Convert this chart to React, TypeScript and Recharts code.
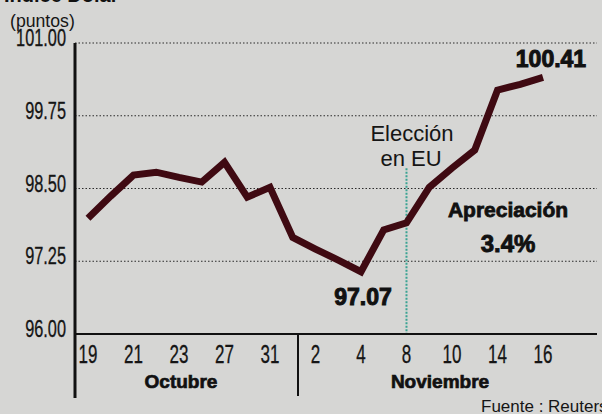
import React from 'react';
import { LineChart, Line, XAxis, YAxis, CartesianGrid, ReferenceLine, ReferenceDot } from 'recharts';

// Trading-day index (0..20) and index values
const dayIndex = [0, 1, 2, 3, 4, 5, 6, 7, 8, 9, 10, 11, 12, 13, 14, 15, 16, 17, 18, 19, 20];
const indexValues = [97.99, 98.37, 98.73, 98.78, 98.69, 98.61, 98.95, 98.35, 98.52, 97.66, 97.46, 97.27, 97.07, 97.79, 97.91, 98.52, 98.85, 99.16, 100.19, 100.29, 100.41];
const tickPositions = [0, 2, 4, 6, 8, 10, 12, 14, 16, 18, 20];
const tickLabels = ['19', '21', '23', '27', '31', '2', '4', '8', '10', '14', '16'];
const yTicks = [96, 97.25, 98.5, 99.75, 101];
const electionIndex = 14;
const electionTop = 98.85;
const minIndex = 12;
const minValue = 97.07;
const lastIndex = 20;
const lastValue = 100.41;

const data = dayIndex.map((i, k) => ({ i, v: indexValues[k] }));

const FONT = '"Liberation Sans", Arial, sans-serif';

const YTick = (props: any) => {
  const { y, payload } = props;
  return (
    <g transform={`translate(66, ${y + 3}) scale(0.68, 1)`}>
      <text x={0} y={0} textAnchor="end" fontFamily={FONT} fontSize={24} fill="#151515" stroke="#151515" strokeWidth={0.3}>
        {Number(payload.value).toFixed(2)}
      </text>
    </g>
  );
};

const XTick = (props: any) => {
  const { x, payload } = props;
  const idx = tickPositions.indexOf(payload.value);
  const label = idx >= 0 ? tickLabels[idx] : '';
  return (
    <g transform={`translate(${x}, 363) scale(0.68, 1)`}>
      <text x={0} y={0} textAnchor="middle" fontFamily={FONT} fontSize={25} fill="#151515" stroke="#151515" strokeWidth={0.3}>
        {label}
      </text>
    </g>
  );
};

const BoldLabel = (text: string, dx: number, dy: number, size: number) => (props: any) => {
  const vb = props.viewBox || {};
  const cx = vb.cx !== undefined ? vb.cx : vb.x + (vb.width || 0) / 2;
  const cy = vb.cy !== undefined ? vb.cy : vb.y + (vb.height || 0) / 2;
  return (
    <text
      x={cx + dx}
      y={cy + dy}
      textAnchor="middle"
      fontFamily={FONT}
      fontWeight={700}
      fontSize={size}
      fill="#111"
      stroke="#111"
      strokeWidth={1}
    >
      {text}
    </text>
  );
};

export default function App() {
  return (
    <div style={{ position: 'absolute', left: 0, top: 0, width: 602, height: 414, background: '#d6d6d4', overflow: 'hidden' }}>
      <LineChart width={602} height={414} data={data} margin={{ top: 43, right: 5, bottom: 0, left: 15 }}>
        <CartesianGrid horizontal vertical={false} stroke="#2a2a2a" strokeDasharray="1.5 2" strokeWidth={1} />
        <XAxis
          dataKey="i"
          type="number"
          domain={[-0.571, 22.374]}
          allowDataOverflow
          ticks={tickPositions}
          interval={0}
          height={80}
          tickLine={false}
          axisLine={{ stroke: '#111', strokeWidth: 2 }}
          tick={<XTick />}
        />
        <YAxis
          type="number"
          domain={[96, 101]}
          ticks={yTicks}
          width={60}
          tickLine={false}
          axisLine={{ stroke: '#111', strokeWidth: 3 }}
          tick={<YTick />}
        />
        <ReferenceLine
          segment={[{ x: electionIndex, y: electionTop }, { x: electionIndex, y: 96 }]}
          stroke="#3aa393"
          strokeWidth={2}
          strokeDasharray="2 1.5"
        />
        <Line
          type="linear"
          dataKey="v"
          stroke="#3f0a12"
          strokeWidth={7}
          dot={false}
          activeDot={false}
          strokeLinejoin="miter"
          isAnimationActive={false}
        />
        <ReferenceDot x={lastIndex} y={lastValue} r={0} stroke="none" fill="none" label={BoldLabel(lastValue.toFixed(2), 8, -10, 23)} />
        <ReferenceDot x={minIndex} y={minValue} r={0} stroke="none" fill="none" label={BoldLabel(minValue.toFixed(2), 2, 33, 23)} />
      </LineChart>
      <svg width={602} height={414} style={{ position: 'absolute', left: 0, top: 0, pointerEvents: 'none' }}>
        <text x={4} y={2} fontFamily={FONT} fontWeight={700} fontSize={20} fill="#111">Índice Dólar</text>
        <g transform="translate(10, 27) scale(0.93, 1)">
          <text x={0} y={0} fontFamily={FONT} fontSize={19} fill="#151515">(puntos)</text>
        </g>
        <line x1={75} y1={334} x2={75} y2={398} stroke="#111" strokeWidth={3} />
        <line x1={298} y1={334} x2={298} y2={396} stroke="#111" strokeWidth={2} />
        <text x={181} y={388} textAnchor="middle" fontFamily={FONT} fontWeight={700} fontSize={19} fill="#111" stroke="#111" strokeWidth={0.7}>Octubre</text>
        <text x={440} y={388} textAnchor="middle" fontFamily={FONT} fontWeight={700} fontSize={19} fill="#111" stroke="#111" strokeWidth={0.7}>Noviembre</text>
        <text x={481} y={412} fontFamily={FONT} fontSize={17} fill="#151515">Fuente : Reuters</text>
        <text x={412} y={141} textAnchor="middle" fontFamily={FONT} fontSize={22} fill="#151515">Elección</text>
        <text x={411} y={166} textAnchor="middle" fontFamily={FONT} fontSize={22} fill="#151515">en EU</text>
        <text x={508} y={217} textAnchor="middle" fontFamily={FONT} fontWeight={700} fontSize={21} fill="#111" stroke="#111" strokeWidth={0.8}>Apreciación</text>
        <text x={508} y={252} textAnchor="middle" fontFamily={FONT} fontWeight={700} fontSize={24} fill="#111" stroke="#111" strokeWidth={0.9}>3.4%</text>
      </svg>
    </div>
  );
}
